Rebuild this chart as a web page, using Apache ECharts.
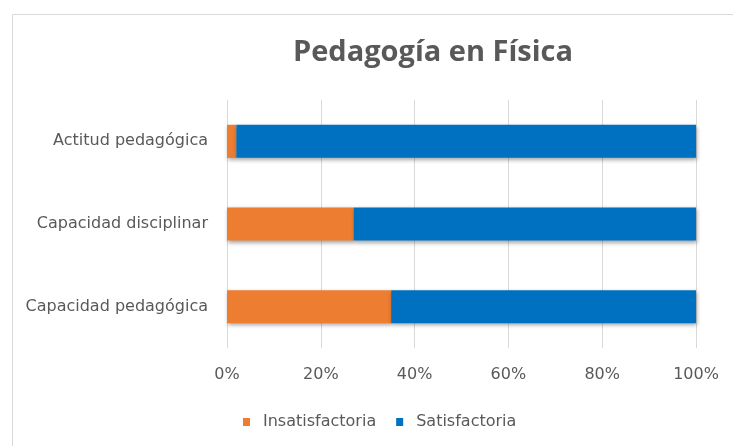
<!DOCTYPE html>
<html>
<head>
<meta charset="utf-8">
<script src="https://cdn.jsdelivr.net/npm/echarts@6/dist/echarts.min.js"></script>
<style>html,body{margin:0;padding:0;background:#fff;}#c{width:733px;height:446px;}</style>
</head>
<body>
<div id="c"></div>
<script>
var titleText = 'Pedagogía en Física';
var categories = ['Capacidad pedagógica', 'Capacidad disciplinar', 'Actitud pedagógica'];
var seriesNames = ['Insatisfactoria', 'Satisfactoria'];
var insatisfactoria = [35, 27, 2];
var satisfactoria = [65, 73, 98];
var tickValues = [0, 20, 40, 60, 80, 100];

var chart = echarts.init(document.getElementById('c'));
var shadow = {shadowColor: 'rgba(0,0,0,0.35)', shadowBlur: 4, shadowOffsetX: 1, shadowOffsetY: 2};
var lblFont = 'DejaVu Sans';
chart.setOption({
  animation: false,
  graphic: [{
    type: 'rect', left: 10, top: 12,
    shape: {width: 740, height: 450},
    style: {fill: 'none', stroke: '#d9d9d9', lineWidth: 1}, z: -1
  }],
  title: {
    text: titleText, left: 428, top: 33, textAlign: 'center',
    textStyle: {fontFamily: 'Open Sans', fontWeight: 'bold', fontSize: 29, color: '#595959'}
  },
  legend: {
    data: seriesNames, left: 238, top: 409, itemWidth: 7, itemHeight: 8, itemGap: 20,
    icon: 'rect',
    textStyle: {fontFamily: lblFont, fontSize: 16, color: '#595959', padding: [0, 0, 0, 8]}
  },
  grid: {left: 227, right: 37, top: 100, bottom: 98, containLabel: false},
  xAxis: {
    type: 'value', min: 0, max: 100, interval: 20,
    axisLine: {show: false}, axisTick: {show: false},
    splitLine: {lineStyle: {color: '#d9d9d9'}},
    axisLabel: {formatter: '{value}%', fontFamily: lblFont, fontSize: 16, color: '#595959', margin: 19}
  },
  yAxis: {
    type: 'category', data: categories,
    axisLine: {show: false}, axisTick: {show: false},
    axisLabel: {fontFamily: lblFont, fontSize: 16, color: '#595959', margin: 19}
  },
  series: [
    {name: seriesNames[0], type: 'bar', stack: 'a', data: insatisfactoria, barWidth: '40%',
     itemStyle: Object.assign({color: '#ED7D31'}, shadow)},
    {name: seriesNames[1], type: 'bar', stack: 'a', data: satisfactoria, barWidth: '40%',
     itemStyle: Object.assign({color: '#0070C0'}, shadow)}
  ]
});
</script>
</body>
</html>
